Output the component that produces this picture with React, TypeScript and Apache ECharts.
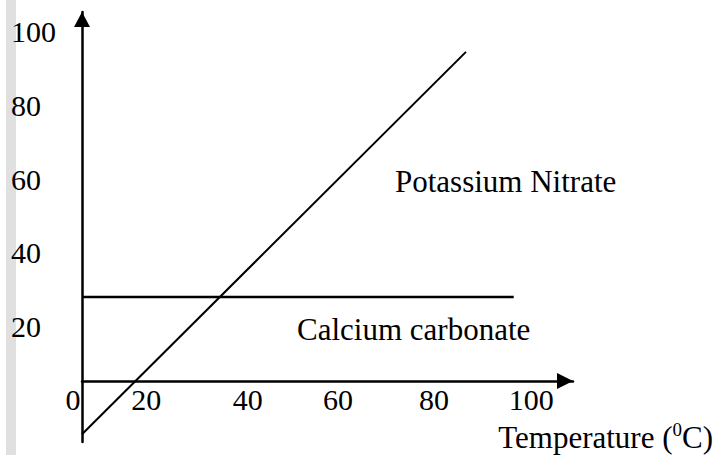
import React, { useEffect, useRef } from "react";
import * as echarts from "echarts";

const FONT = "'Liberation Serif', 'Times New Roman', serif";

// Tick labels
const xTickValues = [0, 20, 40, 60, 80, 100];
const yTickValues = [20, 40, 60, 80, 100];

// Series (temperature °C, solubility)
const potassiumNitrate: [number, number][] = [
  [0, -14.4],
  [82.9, 89.2],
];
const calciumCarbonate: [number, number][] = [
  [0, 22.8],
  [93.2, 22.8],
];

const xRange = { min: 0, max: 106 };
const yRange = { min: -16.5, max: 100 };

// Hand-typed label placement in the original: right padding per x tick label (style only)
const xLabelPadRight: Record<number, number> = { 0: 18, 20: 57, 40: 39, 60: 44, 80: 37, 100: 28 };

export default function App() {
  const ref = useRef<HTMLDivElement>(null);
  useEffect(() => {
    if (!ref.current) return;
    const chart = echarts.init(ref.current, null, { renderer: "svg" });
    const axisLineStyle = { color: "#000", width: 2.5 };
    const xRich: Record<string, any> = {};
    xTickValues.forEach((v) => {
      xRich["a" + v] = {
        fontSize: 30,
        fontFamily: FONT,
        color: "#000",
        lineHeight: 30,
        padding: [0, xLabelPadRight[v] ?? 37, 0, 0],
      };
    });
    chart.setOption({
      animation: false,
      backgroundColor: "#fff",
      grid: {
        left: 82,
        right: 143,
        top: 12,
        bottom: 13,
        containLabel: false,
        outerBoundsMode: "none",
      },
      xAxis: {
        type: "value",
        min: xRange.min,
        max: xRange.max,
        axisLine: {
          show: true,
          onZero: true,
          symbol: ["none", "triangle"],
          symbolSize: [16, 16],
          symbolOffset: [0, -8],
          lineStyle: axisLineStyle,
        },
        axisTick: { show: false },
        splitLine: { show: false },
        axisLabel: {
          customValues: xTickValues,
          inside: true,
          margin: 28,
          hideOverlap: false,
          formatter: (v: number) => `{a${v}|${v}}`,
          rich: xRich,
        },
      },
      yAxis: {
        type: "value",
        min: yRange.min,
        max: yRange.max,
        axisLine: {
          show: true,
          onZero: true,
          symbol: ["none", "triangle"],
          symbolSize: [16, 15],
          symbolOffset: [0, -7.5],
          lineStyle: axisLineStyle,
        },
        axisTick: { show: false },
        splitLine: { show: false },
        axisLabel: {
          customValues: yTickValues,
          align: "left",
          verticalAlign: "top",
          lineHeight: 39,
          margin: 71,
          hideOverlap: false,
          fontSize: 30,
          fontFamily: FONT,
          color: "#000",
        },
      },
      series: [
        {
          name: "Potassium Nitrate",
          type: "line",
          data: potassiumNitrate,
          symbol: "none",
          lineStyle: { color: "#000", width: 2 },
        },
        {
          name: "Calcium carbonate",
          type: "line",
          data: calciumCarbonate,
          symbol: "none",
          lineStyle: { color: "#000", width: 2.5 },
        },
      ],
      graphic: [
        {
          type: "rect",
          shape: { x: 6, y: 0, width: 10, height: 455 },
          style: { fill: "#e0e0e0" },
          z: -1,
        },
        {
          type: "text",
          x: 395,
          y: 181,
          style: {
            text: "Potassium Nitrate",
            fontSize: 31,
            fontFamily: FONT,
            fill: "#000",
            align: "left",
            verticalAlign: "middle",
          },
        },
        {
          type: "text",
          x: 297,
          y: 329,
          style: {
            text: "Calcium carbonate",
            fontSize: 31,
            fontFamily: FONT,
            fill: "#000",
            align: "left",
            verticalAlign: "middle",
          },
        },
        {
          type: "text",
          x: 713,
          y: 437,
          style: {
            text: "{t|Temperature (}{s|0}{t|C)}",
            align: "right",
            verticalAlign: "middle",
            rich: {
              t: { fontSize: 31, fontFamily: FONT, fill: "#000", lineHeight: 34 },
              s: { fontSize: 19, fontFamily: FONT, fill: "#000", lineHeight: 34, verticalAlign: "top" },
            },
          },
        },
      ],
    });
    return () => chart.dispose();
  }, []);
  return (
    <div
      ref={ref}
      style={{ position: "absolute", left: 0, top: 0, width: 716, height: 455, background: "#fff" }}
    />
  );
}
